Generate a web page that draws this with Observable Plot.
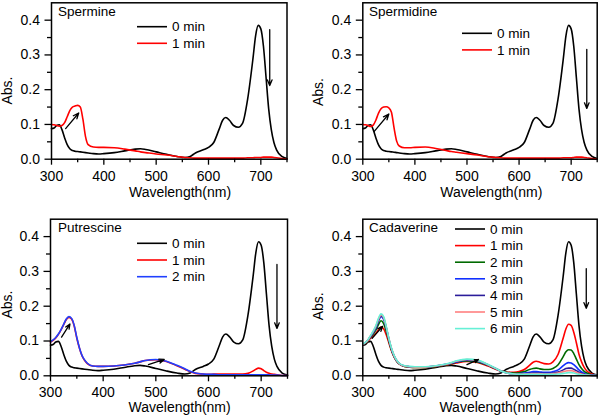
<!DOCTYPE html>
<html><head><meta charset="utf-8">
<script src="https://cdn.jsdelivr.net/npm/d3@7"></script>
<script src="https://cdn.jsdelivr.net/npm/@observablehq/plot@0.6"></script>
<style>
body{margin:0;background:#fff;}
#wrap{position:relative;width:600px;height:415px;overflow:hidden;font-family:"Liberation Sans",Arial,sans-serif;background:#fff;}
#wrap svg{position:absolute;}
</style></head><body><div id="wrap"></div>
<script>
// wavelength grid (nm)
const wavelength = [300,305,310,315,320,325,330,335,340,345,350,355,360,365,370,380,390,400,420,440,460,470,480,500,520,540,555,565,575,590,600,610,620,627,633,640,648,657,665,675,685,690,695,700,705,710,715,720,725,730,740,750];

const spermine0 = [.088,.090,.097,.099,.085,.062,.042,.030,.025,.023, .022,.021,.020,.019,.018,.016,.015,.016,.019,.024, .029,.030,.028,.021,.014,.008,.005,.008,.018,.027, .034,.048,.085,.112,.120,.112,.097,.092,.103,.175, .290,.355,.385,.375,.325,.235,.145,.085,.048,.027, .008,.002];
const spermine1 = [.100,.099,.097,.095,.097,.105,.122,.140,.150,.153, .155,.150,.115,.065,.042,.035,.034,.034,.033,.029, .024,.021,.019,.015,.012,.008,.005,.004,.003,.003, .003,.003,.003,.003,.003,.003,.003,.003,.003,.004, .004,.005,.005,.005,.006,.006,.006,.006,.005,.004, .002,.001];

const spermidine0 = [.088,.090,.097,.099,.085,.062,.042,.030,.025,.023, .022,.021,.020,.019,.018,.016,.015,.016,.019,.024, .029,.030,.028,.021,.014,.008,.005,.008,.018,.027, .034,.048,.085,.112,.120,.112,.097,.092,.103,.175, .290,.355,.385,.375,.325,.235,.145,.085,.048,.027, .008,.002];
const spermidine1 = [.100,.099,.097,.094,.098,.112,.132,.145,.150,.151, .148,.135,.090,.052,.038,.033,.033,.034,.035,.031, .025,.022,.020,.016,.012,.007,.005,.004,.003,.003, .003,.003,.003,.003,.003,.003,.003,.003,.003,.003, .004,.004,.004,.004,.005,.006,.006,.006,.005,.004, .002,.001];

const putrescine0 = [.088,.090,.097,.099,.085,.062,.042,.030,.025,.023, .022,.021,.020,.019,.018,.016,.015,.016,.019,.024, .029,.030,.028,.021,.014,.008,.005,.008,.018,.027, .034,.048,.085,.112,.120,.112,.097,.092,.103,.175, .290,.355,.385,.375,.325,.235,.145,.085,.048,.027, .008,.002];
const putrescine1 = [.097,.102,.109,.119,.132,.147,.162,.168,.163,.143, .108,.079,.057,.044,.035,.028,.027,.027,.028,.031, .036,.040,.044,.046,.041,.029,.019,.012,.007,.005, .004,.005,.005,.005,.005,.005,.005,.005,.005,.007, .014,.019,.022,.020,.015,.010,.007,.005,.004,.003, .001,.001];
const putrescine2 = [.098,.103,.110,.120,.133,.148,.163,.170,.165,.145, .110,.080,.058,.045,.036,.028,.027,.027,.028,.031, .036,.040,.044,.047,.042,.030,.020,.013,.008,.005, .004,.004,.003,.003,.003,.003,.003,.003,.003,.003, .003,.003,.003,.003,.003,.003,.003,.002,.002,.002, .001,.001];

const cadaverine0 = [.088,.090,.097,.099,.085,.062,.042,.030,.025,.023, .022,.021,.020,.019,.018,.016,.015,.016,.019,.024, .029,.030,.028,.021,.014,.008,.005,.008,.018,.027, .034,.048,.085,.112,.120,.112,.097,.092,.103,.175, .290,.355,.385,.375,.325,.235,.145,.085,.048,.027, .008,.002];
const cadaverine1 = [.090,.094,.100,.108,.115,.122,.132,.140,.135,.118, .095,.072,.054,.042,.034,.027,.025,.024,.024,.027, .031,.034,.037,.041,.038,.028,.019,.014,.011,.010, .012,.018,.030,.039,.042,.039,.035,.034,.040,.062, .110,.135,.148,.145,.125,.095,.062,.040,.024,.014, .005,.001];
const cadaverine2 = [.090,.094,.101,.111,.120,.131,.147,.158,.150,.128, .100,.074,.055,.042,.034,.027,.025,.024,.024,.027, .032,.035,.039,.043,.040,.030,.020,.014,.010,.008, .009,.012,.018,.021,.022,.020,.018,.018,.021,.032, .056,.069,.075,.074,.064,.048,.032,.021,.013,.008, .003,.001];
const cadaverine3 = [.090,.095,.102,.113,.124,.137,.157,.170,.162,.137, .105,.077,.057,.043,.035,.028,.026,.025,.025,.028, .033,.036,.040,.045,.042,.031,.021,.014,.009,.006, .006,.008,.010,.012,.012,.011,.010,.010,.012,.017, .029,.035,.038,.037,.032,.025,.017,.011,.007,.004, .002,.001];
const cadaverine4 = [.090,.095,.103,.114,.126,.140,.160,.173,.165,.139, .106,.078,.058,.044,.035,.028,.026,.025,.025,.028, .033,.037,.041,.046,.043,.032,.021,.014,.009,.005, .005,.006,.007,.008,.008,.008,.007,.007,.008,.011, .017,.021,.022,.022,.019,.015,.010,.007,.004,.003, .001,.001];
const cadaverine5 = [.090,.095,.103,.115,.127,.142,.162,.175,.167,.140, .107,.079,.058,.044,.035,.028,.026,.025,.025,.028, .033,.037,.042,.047,.044,.032,.021,.014,.009,.005, .004,.005,.005,.006,.006,.006,.005,.005,.006,.008, .012,.014,.015,.015,.013,.010,.007,.005,.003,.002, .001,.001];
const cadaverine6 = [.091,.096,.104,.116,.129,.144,.165,.178,.170,.142, .108,.080,.059,.045,.036,.029,.027,.026,.026,.029, .034,.038,.043,.048,.045,.033,.022,.014,.009,.005, .004,.004,.004,.004,.004,.004,.004,.004,.004,.005, .007,.008,.009,.009,.008,.006,.004,.003,.002,.002, .001,.001];

const timeLabels = ["0 min","1 min","2 min","3 min","4 min","5 min","6 min"];
const xMajor = [300,400,500,600,700];
const xMinor = [350,450,550,650,750];
const yMajor = [0,0.1,0.2,0.3,0.4];
const yMinor = [0.05,0.15,0.25,0.35];

// annotation arrows [x1, y1, x2, y2] in data units
const spermineArrows = [[327,0.088,352,0.133],[717,0.373,717,0.212]];
const spermidineArrows = [[322,0.080,350,0.130],[730,0.316,730,0.146]];
const putrescineArrows = [[321,0.111,337,0.149],[486,0.032,516,0.047],[730,0.320,730,0.136]];
const cadaverineArrows = [[318,0.108,338,0.142],[500,0.032,522,0.047],[729,0.308,729,0.194]];

const palette2 = ["#000000","#ff0000"];
const palette3 = ["#000000","#ff0000","#2040ff"];
const palette7 = ["#000000","#ff0000","#006a00","#1030ff","#2b1d9a","#ff8080","#66f0d6"];

const panels = [
  {name:"Spermine", series:[spermine0,spermine1], colors:palette2, arrows:spermineArrows,
   left:0, top:0, w:300, h:207, ml:51, mr:13.5, mt:2.3, mb:48.3, pad:6,
   title:[58,11.7], legend:[137,26.7,16.6], absD:[-43.7,9.5], wlD:[10.8,33.5]},
  {name:"Spermidine", series:[spermidine0,spermidine1], colors:palette2, arrows:spermidineArrows,
   left:300, top:0, w:300, h:207, ml:62.3, mr:3.3, mt:2.3, mb:48.3, pad:6,
   title:[69,11.7], legend:[162,33.3,16.6], absD:[-44,11], wlD:[11.3,33.5]},
  {name:"Putrescine", series:[putrescine0,putrescine1,putrescine2], colors:palette3, arrows:putrescineArrows,
   left:0, top:207, w:300, h:208, ml:50, mr:13, mt:11.7, mb:39.7, pad:5,
   title:[58,20.7], legend:[137,36.3,16.7], absD:[-42.7,7], wlD:[10.6,31.5]},
  {name:"Cadaverine", series:[cadaverine0,cadaverine1,cadaverine2,cadaverine3,cadaverine4,cadaverine5,cadaverine6], colors:palette7, arrows:cadaverineArrows,
   left:300, top:207, w:300, h:208, ml:62.3, mr:3.3, mt:11.7, mb:39.7, pad:5,
   title:[69,20.7], legend:[155,22,16.6], absD:[-44,8.8], wlD:[10.5,31.5]}
];

const FONT = '"Liberation Sans", Arial, sans-serif';
const wrap = document.getElementById("wrap");

for (const p of panels) {
  const rows = [];
  p.series.forEach((vals, k) => vals.forEach((v, i) => rows.push({wl: wavelength[i], abs: v, k})));
  const lineMarks = p.series.map((_, k) =>
    Plot.line(rows.filter(d => d.k === k), {x: "wl", y: "abs", stroke: p.colors[k], strokeWidth: 1.6, curve: "monotone-x"}));
  const chart = Plot.plot({
    width: p.w, height: p.h,
    marginLeft: p.ml, marginRight: p.mr, marginTop: p.mt, marginBottom: p.mb,
    style: {fontFamily: FONT, fontSize: "14px", color: "black", background: "transparent", overflow: "visible"},
    x: {domain: [300, 750]},
    y: {domain: [0, 0.45]},
    marks: [
      ...lineMarks,
      Plot.arrow(p.arrows, {x1: d => d[0], y1: d => d[1], x2: d => d[2], y2: d => d[3], stroke: "black", strokeWidth: 1.3, headLength: 7, headAngle: 45}),
      Plot.axisX({ticks: xMajor, tickSize: 6, tickPadding: p.pad, tickFormat: d => String(d), label: null, strokeWidth: 1.3, fontSize: 14}),
      Plot.axisX({ticks: xMinor, tickSize: 3.5, text: null, label: null, strokeWidth: 1.3}),
      Plot.axisY({ticks: yMajor, tickSize: 6.5, tickPadding: 5, tickFormat: d3.format(".1f"), label: null, strokeWidth: 1.3, fontSize: 14}),
      Plot.axisY({ticks: yMinor, tickSize: 4, text: null, label: null, strokeWidth: 1.3}),
      Plot.frame({stroke: "black", strokeWidth: 1.5}),
      Plot.text(["Abs."], {text: d => d, frameAnchor: "left", textAnchor: "middle", lineAnchor: "middle", rotate: -90, dx: p.absD[0], dy: p.absD[1], fontSize: 14}),
      Plot.text(["Wavelength(nm)"], {text: d => d, frameAnchor: "bottom", textAnchor: "middle", lineAnchor: "middle", dx: p.wlD[0], dy: p.wlD[1], fontSize: 14})
    ]
  });
  chart.style.left = p.left + "px";
  chart.style.top = p.top + "px";
  const svg = d3.select(chart);
  const g = svg.append("g").attr("font-family", FONT).attr("font-size", 13.5).attr("fill", "black").attr("text-anchor", "start");
  g.append("text").attr("x", p.title[0]).attr("y", p.title[1]).attr("dy", "0.35em").attr("text-anchor", "start").text(p.name);
  const [lx, ly, step] = p.legend;
  p.series.forEach((_, k) => {
    const y = ly + k * step;
    g.append("line").attr("x1", lx).attr("x2", lx + 30).attr("y1", y).attr("y2", y)
      .attr("stroke", p.colors[k]).attr("stroke-width", 1.6);
    g.append("text").attr("x", lx + 35).attr("y", y).attr("dy", "0.35em").attr("text-anchor", "start").text(timeLabels[k]);
  });
  wrap.appendChild(chart);
}
</script>
</body></html>
